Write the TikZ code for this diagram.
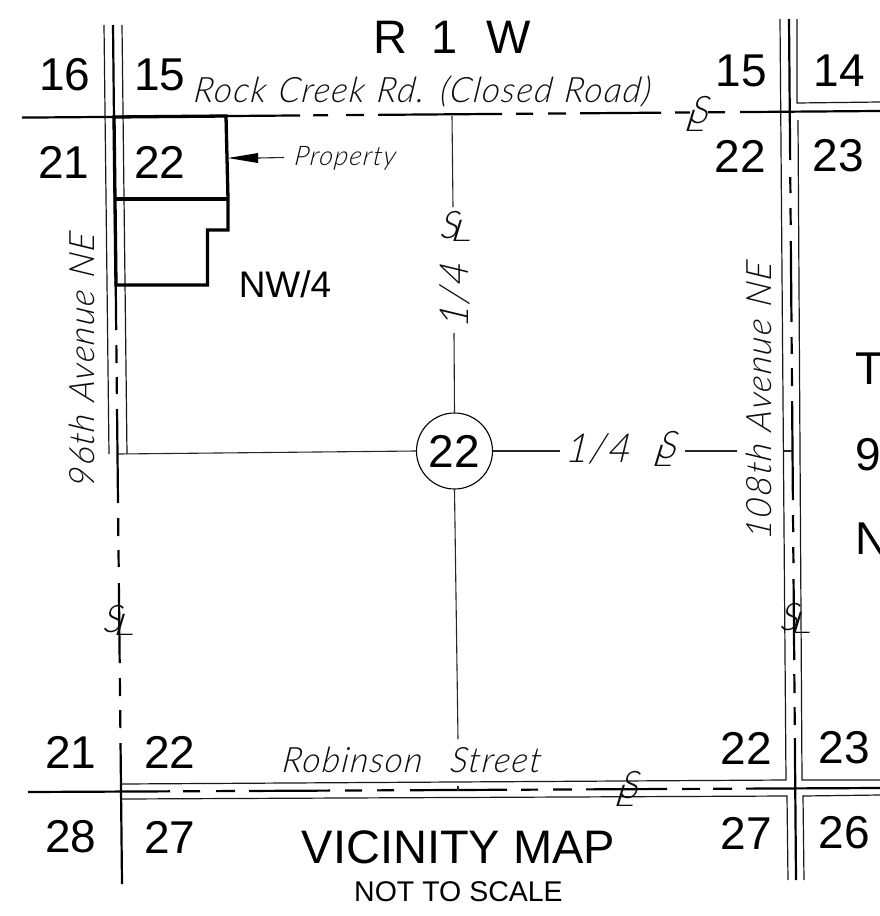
\documentclass[tikz,border=0pt]{standalone}
\usepackage{fontspec}
\setmainfont{Liberation Sans}
\newfontfamily\thinit[LetterSpace=4,FakeSlant=0.12]{Lato Light Italic}
\newfontfamily\thinwide[FakeSlant=0.12,FakeStretch=1.5]{Lato Light Italic}
\usetikzlibrary{arrows.meta}
\tikzset{
  thinline/.style={line width=1.1pt,black!85},
  roadline/.style={line width=1.2pt,black!90},
  centerline/.style={line width=2.2pt,black},
  lotline/.style={line width=3.3pt,black,line join=miter},
  num/.style={font=\fontsize{46}{46}\selectfont,inner sep=0pt,anchor=center},
  lett/.style={inner sep=0pt,anchor=center},
  hand/.style={inner sep=0pt,anchor=center,font=\thinit\fontsize{35}{35}\selectfont,black!95},
  sy/.style={inner sep=0pt,anchor=center,font=\thinit\fontsize{38}{38}\selectfont,black!95},
  syl/.style={inner sep=0pt,anchor=center,font=\thinwide\fontsize{30}{30}\selectfont,black!95},
}
\newcommand{\clmark}[3]{%
  \begin{scope}[shift={(#1,#2)},rotate=#3]
    \node[sy] at (3,-5) {S};
    \node[syl] at (-3,6) {L};
  \end{scope}}
\begin{document}
\begin{tikzpicture}[x=1pt,y=-1pt]
\useasboundingbox (0,0) rectangle (880,916);
\clip (0,0) rectangle (880,916);
% road edges
\draw[roadline] (104,25) -- (109,454);
\draw[roadline] (122,25) -- (127,454);
\draw[roadline] (780,19) -- (786,780) -- (122,784);
\draw[roadline] (797,19) -- (797,103) -- (880,102);
\draw[roadline] (798,120) -- (802,780) -- (880,780);
\draw[roadline] (122,799) -- (787,796) -- (788,880);
\draw[roadline] (880,795) -- (803,796) -- (804,880);
% left centre line
\foreach \a/\b in {25/330,345/363,377/394,409/503,518/536,550/567,583/663,678/696,710/728,743/884}{
  \draw[centerline] ({113+(\a-25)*0.01048},\a) -- ({113+(\b-25)*0.01048},\b);}
% right centre line
\foreach \a/\b in {19/160,177/193,208/225,241/322,337/354,368/386,401/500,515/532,547/563,579/660,674/693,707/725,738/880}{
  \draw[centerline] ({789+(\a-19)*0.00813},\a) -- ({789+(\b-19)*0.00813},\b);}
% top centre line
\foreach \a/\b in {22/300,313/328,346/364,378/502,516/533,548/566,580/661,675/690,708/725,740/880}{
  \draw[centerline] (\a,{117.6-(\a-22)*0.0077}) -- (\b,{117.6-(\b-22)*0.0077});}
% bottom centre line
\foreach \a/\b in {28/170,183/200,216/235,249/330,345/362,377/394,410/507,521/538,553/572,586/667,682/700,713/732,746/880}{
  \draw[centerline] (\a,{792-(\a-28)*0.0047}) -- (\b,{792-(\b-28)*0.0047});}
% property
\draw[lotline] (114,117) -- (226,116) -- (228,199) -- (228,230) -- (207.5,230) -- (207.5,285) -- (116,285) -- cycle;
\draw[lotline] (114.5,199) -- (229,199);
\coordinate (proptip) at (228,158);
\coordinate (propbase) at (258,158);
\coordinate (propend) at (284,157.5);
\fill (proptip) -- (258,153) -- (258,163) -- cycle;
\draw[thinline] (propbase) -- (propend);
% section subdivision
\node[circle,draw,line width=1.1pt,minimum size=76pt,inner sep=0pt,font=\fontsize{46}{46}\selectfont] (cen) at (454.5,451) {22};
\coordinate (ntop) at (452,116);
\coordinate (ntopb) at (453,207);
\coordinate (ntopc) at (454,333);
\coordinate (wend) at (118,454);
\coordinate (send) at (458,739);
\coordinate (ea) at (560,451);
\coordinate (eb) at (685,451);
\coordinate (ec) at (737,451);
\coordinate (ed) at (783,451);
\coordinate (ee) at (792,451);
\draw[thinline] (ntop) -- (ntopb);
\draw[thinline] (ntopc) -- (cen.north);
\draw[thinline] (wend) -- (cen.west);
\draw[thinline] (cen.south) -- (send);
\draw[thinline] (cen.east) -- (ea);
\draw[thinline] (eb) -- (ec);
\draw[thinline] (ed) -- (ee);
\draw[thinline] (458,786) -- (458,791);
% titles
\node[lett,font=\fontsize{47}{47}\selectfont] (rng) at (452,37) {R\hspace{24pt}1\hspace{29pt}W};
\node[lett,font=\fontsize{47}{47}\selectfont] (vm) at (458.5,847) {VICINITY MAP};
\node[lett,font=\fontsize{28.5}{28.5}\selectfont] (nts) at (458.5,892) {NOT TO SCALE};
\node[lett,font=\fontsize{37}{37}\selectfont] (nw) at (285,284.5) {NW/4};
\node[lett,anchor=west,font=\fontsize{46}{46}\selectfont] (tt) at (855,369) {T};
\node[lett,anchor=west,font=\fontsize{46}{46}\selectfont] (tn) at (855,455) {9};
\node[lett,anchor=west,font=\fontsize{46}{46}\selectfont] (tc) at (855,539) {N};
% section numbers
\foreach \n/\x/\y in {16/65/75,15/160/75,21/64/162,22/160/162,15/741/71,14/839/71,22/740/156,23/838/156,21/71/752,22/170/752,28/71/837,27/170/837,22/746/748,23/844/748,27/746/833,26/844/833}{
  \node[num] at (\x,\y) {\n};}
% hand lettering
\node[hand] (r1) at (421.5,91) {Rock\hspace{2pt} Creek\hspace{2pt} Rd.\hspace{2pt} (Closed\hspace{2pt} Road)};
\node[hand] (r2) at (411,760) {Robinson\hspace{18pt} Street};
\node[hand,font=\thinit\fontsize{27}{27}\selectfont] (pr) at (344.5,158) {Property};
\node[hand,rotate=90] (r3) at (82,361) {96th\hspace{2pt} Avenue\hspace{2pt} NE};
\node[hand,rotate=90] (r4) at (759,402) {108th\hspace{2pt} Avenue\hspace{2pt} NE};
\node[hand,rotate=90,font=\thinit\fontsize{40}{40}\selectfont] (q1) at (455,296) {1/4};
\node[hand,font=\thinit\fontsize{40}{40}\selectfont] (q2) at (598,449) {1/4};
% centreline marks
\clmark{697}{115}{0}
\clmark{627}{790}{0}
\clmark{665}{450}{0}
\clmark{455}{228}{90}
\clmark{118}{622}{90}
\clmark{795}{620}{90}
\end{tikzpicture}
\end{document}
